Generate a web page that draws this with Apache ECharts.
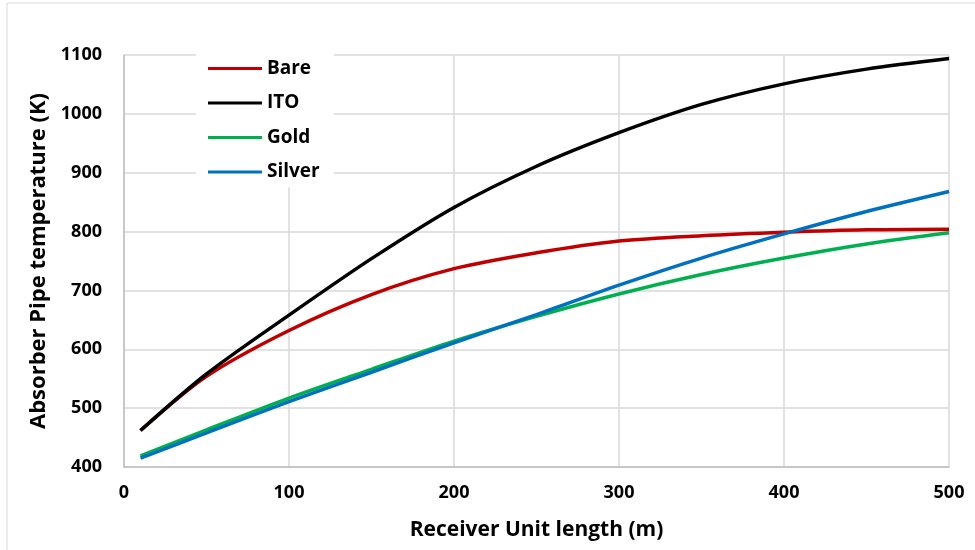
<!DOCTYPE html>
<html lang="en">
<head>
<meta charset="UTF-8">
<title>Absorber pipe temperature</title>
<script src="https://cdn.jsdelivr.net/npm/echarts@6/dist/echarts.min.js"></script>
<style>
    html, body { margin: 0; padding: 0; background: #fff; }
    #chart { width: 975px; height: 550px; }
</style>
</head>
<body>
<div id="chart"></div>
<script type="text/javascript">
    // receiver length (m)
    let lengths = [10, 50, 100, 150, 200, 250, 300, 350, 400, 450, 500];
    // absorber pipe temperature (K)
    let bare   = [462, 554, 632, 693, 737, 764, 784, 793, 799, 803, 804];
    let ito    = [462, 558, 658, 754, 841, 911, 968, 1016, 1051, 1076, 1094];
    let gold   = [419, 463, 517, 566, 614, 656, 694, 727, 755, 779, 798];
    let silver = [415, 458, 511, 561, 611, 659, 709, 755, 796, 834, 868];

    let chart = echarts.init(document.getElementById('chart'));
    let font = 'Open Sans';

    function pairs(ys) {
        let out = [];
        for (let i = 0; i < lengths.length; i++) {
            out.push([lengths[i], ys[i]]);
        }
        return out;
    }

    function lineSeries(name, color, ys) {
        return {
            name: name,
            type: 'line',
            smooth: 0.3,
            symbol: 'none',
            color: color,
            lineStyle: {width: 3.5, color: color},
            data: pairs(ys)
        };
    }

    let option = {
        backgroundColor: '#fff',
        animation: false,
        textStyle: {fontFamily: font},
        graphic: [{
            type: 'rect',
            shape: {x: 7, y: 3, width: 1000, height: 600},
            style: {fill: 'none', stroke: '#d9d9d9', lineWidth: 1},
            silent: true
        }],
        grid: {left: 124, right: 26, top: 55, bottom: 83},
        legend: {
            orient: 'vertical',
            left: 196,
            top: 53,
            padding: [6, 14, 6, 12],
            backgroundColor: '#fff',
            icon: 'rect',
            itemWidth: 54,
            itemHeight: 3,
            itemGap: 15.5,
            textStyle: {fontFamily: font, fontSize: 19, fontWeight: 'bold', color: '#000'},
            data: ['Bare', 'ITO', 'Gold', 'Silver']
        },
        xAxis: {
            type: 'value',
            min: 0,
            max: 500,
            interval: 100,
            name: 'Receiver Unit length (m)',
            nameLocation: 'middle',
            nameGap: 53,
            nameTextStyle: {fontFamily: font, fontSize: 21, fontWeight: 'bold', color: '#000'},
            axisLine: {show: true, lineStyle: {color: '#bfbfbf', width: 1.5}},
            axisTick: {show: false},
            axisLabel: {fontFamily: font, fontSize: 18, fontWeight: 'bold', color: '#000', margin: 17},
            splitLine: {show: true, lineStyle: {color: '#d9d9d9', width: 1.5}}
        },
        yAxis: {
            type: 'value',
            min: 400,
            max: 1100,
            interval: 100,
            name: 'Absorber Pipe temperature (K)',
            nameLocation: 'middle',
            nameGap: 72,
            nameTextStyle: {fontFamily: font, fontSize: 22, fontWeight: 'bold', color: '#000'},
            axisLine: {show: true, lineStyle: {color: '#bfbfbf', width: 1.5}},
            axisTick: {show: false},
            axisLabel: {
                fontFamily: font, fontSize: 18, fontWeight: 'bold', color: '#000', margin: 22,
                formatter: function (v) { return String(v); }
            },
            splitLine: {show: true, lineStyle: {color: '#d9d9d9', width: 1.5}}
        },
        series: [
            lineSeries('Bare', '#c00000', bare),
            lineSeries('ITO', '#000000', ito),
            lineSeries('Gold', '#00b050', gold),
            lineSeries('Silver', '#0070c0', silver)
        ]
    };
    chart.setOption(option);
</script>
</body>
</html>
